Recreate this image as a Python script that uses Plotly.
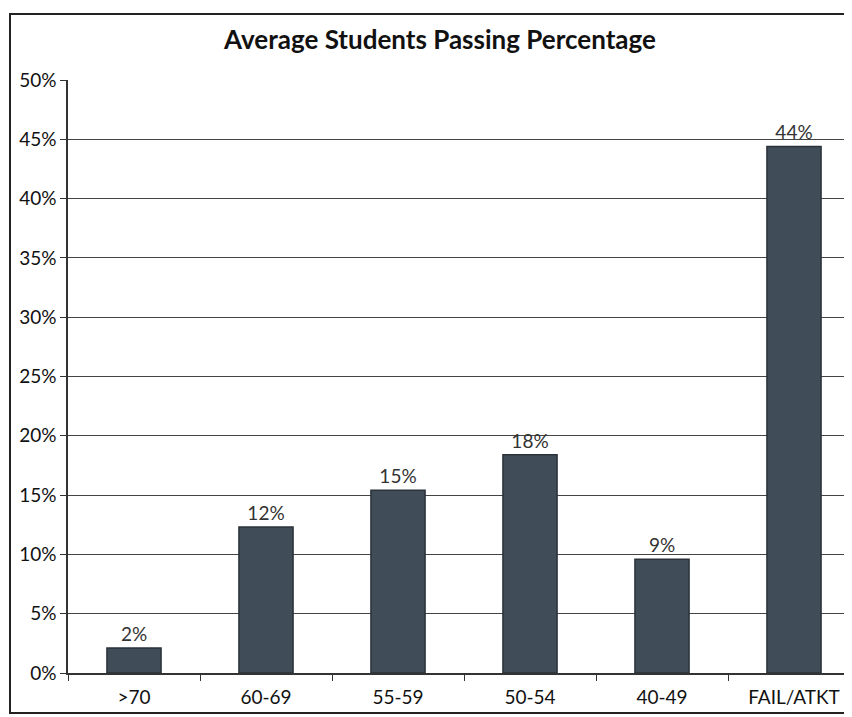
import plotly.graph_objects as go

categories = [">70", "60-69", "55-59", "50-54", "40-49", "FAIL/ATKT"]
values = [2.1, 12.3, 15.4, 18.4, 9.6, 44.4]
labels = ["2%", "12%", "15%", "18%", "9%", "44%"]

FONT = "Lato"
OFF = 8  # browser page offset
W, H = 852, 717
L, T = 68 - OFF, 80 - OFF
B = H - (673 - OFF)
R = 0
pw, ph = W - L - R, H - T - B

fig = go.Figure(go.Bar(
    x=categories, y=values, text=labels, textposition="outside",
    textfont=dict(family=FONT, size=19, color="#333"),
    marker=dict(color="#404d58", line=dict(color="#2a323a", width=1.5)),
    width=0.41, cliponaxis=False,
))

fig.update_layout(
    width=W, height=H,
    margin=dict(l=L, r=R, t=T, b=B),
    paper_bgcolor="white", plot_bgcolor="white",
    showlegend=False,
    title=dict(text="<b>Average Students Passing Percentage</b>", x=(440 - OFF) / W, xanchor="center",
               y=1 - (40 - OFF) / H, yanchor="middle",
               font=dict(family=FONT, size=26, color="#111")),
    xaxis=dict(tickfont=dict(family=FONT, size=19, color="#111"),
               showline=True, linecolor="#333", linewidth=1.5,
               ticks="outside", ticklen=6, tickcolor="#333", tickson="boundaries",
               ticklabelstandoff=6, showgrid=False),
    yaxis=dict(range=[0, 50], dtick=5, ticksuffix="%",
               tickfont=dict(family=FONT, size=19, color="#111"),
               showline=True, linecolor="#333", linewidth=1.5,
               ticks="outside", ticklen=6, tickcolor="#333",
               showgrid=True, gridcolor="#444", gridwidth=1.2, zeroline=False),
    shapes=[dict(type="rect", xref="paper", yref="paper",
                 x0=(10 - 68) / pw, x1=1.03, y0=-(713 - 673) / ph, y1=1 + (80 - 14) / ph,
                 line=dict(color="#222", width=2), fillcolor="rgba(0,0,0,0)", layer="below")],
)

fig.write_html("out.html")
